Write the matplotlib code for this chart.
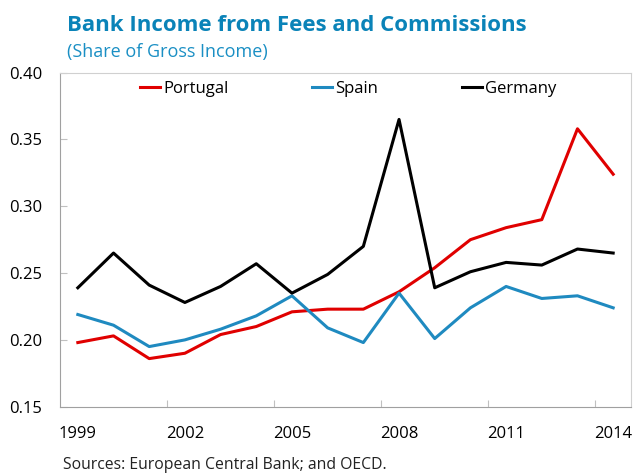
import matplotlib.pyplot as plt
import numpy as np

plt.rcParams['font.family'] = ['Open Sans', 'DejaVu Sans']

years = list(range(1999, 2015))
portugal = [0.198, 0.203, 0.186, 0.190, 0.204, 0.210, 0.221, 0.223,
            0.223, 0.236, 0.254, 0.275, 0.284, 0.290, 0.358, 0.324]
spain = [0.219, 0.211, 0.195, 0.200, 0.208, 0.218, 0.233, 0.209,
         0.198, 0.235, 0.201, 0.224, 0.240, 0.231, 0.233, 0.224]
germany = [0.239, 0.265, 0.241, 0.228, 0.240, 0.257, 0.235, 0.249,
           0.270, 0.365, 0.239, 0.251, 0.258, 0.256, 0.268, 0.265]
label_years = [1999, 2002, 2005, 2008, 2011, 2014]
yticks = [0.15, 0.20, 0.25, 0.30, 0.35, 0.40]

fig = plt.figure(figsize=(6.34, 4.75), dpi=100)
ax = fig.add_axes([0.0946, 0.1438, 0.9007, 0.7032])

ax.plot(years, portugal, color='#E00000', lw=2.2, label='Portugal')
ax.plot(years, spain, color='#1F8AC0', lw=2.2, label='Spain')
ax.plot(years, germany, color='black', lw=2.2, label='Germany')

ax.set_xlim(1998.5, 2014.5)
ax.set_ylim(0.15, 0.40)

# labels on the years, tick marks between categories
ax.set_xticks(label_years)
ax.set_xticklabels([str(y) for y in label_years])
ax.set_xticks(np.array(label_years[1:]) - 0.5, minor=True)
ax.tick_params(axis='x', which='major', length=0, pad=14, labelsize=12)
ax.tick_params(axis='x', which='minor', direction='in', length=5,
               color='#C0C0C0', width=0.8)

ax.set_yticks(yticks)
ax.set_yticklabels(['%.2f' % v for v in yticks])
ax.tick_params(axis='y', direction='in', length=5, color='#C0C0C0',
               width=0.8, pad=13, labelsize=12)

for s in ['left', 'bottom']:
    ax.spines[s].set_color('#A0A0A0')
for s in ['top', 'right']:
    ax.spines[s].set_color('#D0D0D0')

ax.legend(loc='upper center', ncol=3, frameon=False, fontsize=12,
          handlelength=1.2, handletextpad=0.2, columnspacing=5.0,
          bbox_to_anchor=(0.505, 1.02))

fig.text(0.106, 0.947, 'Bank Income from Fees and Commissions',
         fontsize=16, fontweight='bold', color='#0A83B8', va='center')
fig.text(0.106, 0.89, '(Share of Gross Income)', fontsize=13,
         color='#1A8FC4', va='center')
fig.text(0.099, 0.022, 'Sources: European Central Bank; and OECD.',
         fontsize=11.3, color='#222222', va='center')

fig.savefig('out.png', dpi=100)
